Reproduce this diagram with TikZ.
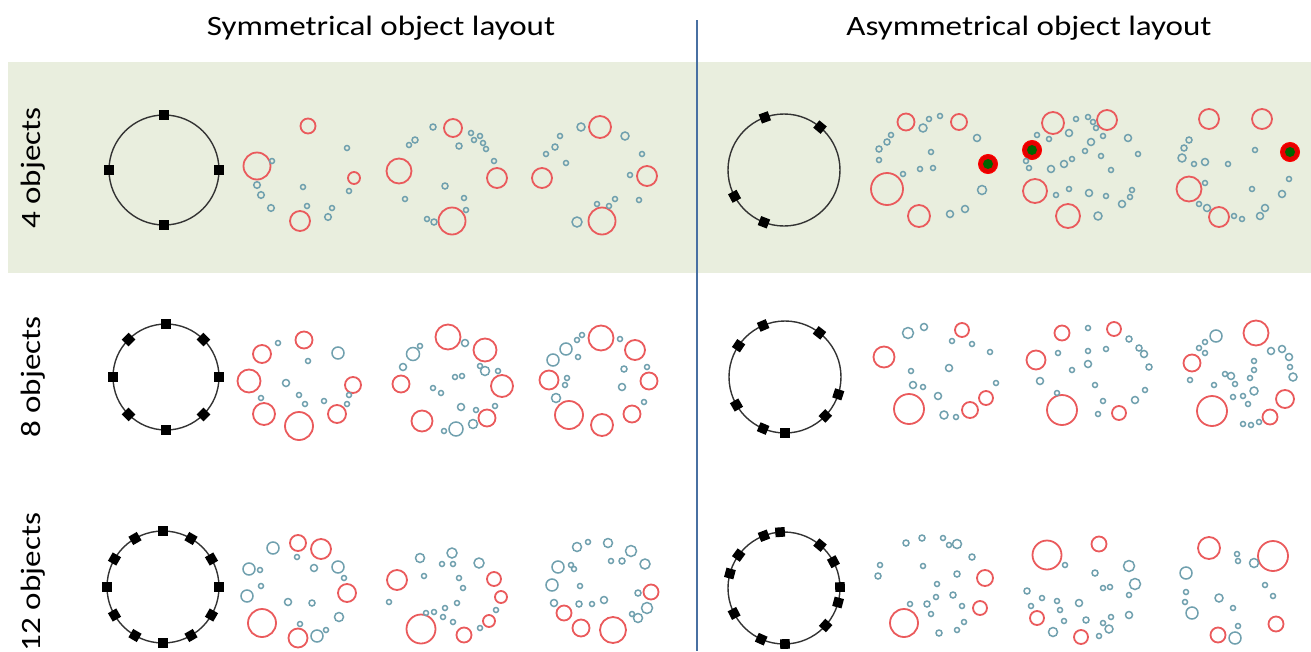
\documentclass[tikz,border=0pt]{standalone}
\usepackage{fontspec}
\setmainfont{Carlito}
\definecolor{bandgreen}{RGB}{233,238,222}
\definecolor{objred}{RGB}{234,90,92}
\definecolor{objblue}{RGB}{112,160,174}
\definecolor{divblue}{RGB}{72,112,162}
\definecolor{hitgreen}{RGB}{0,100,0}
\begin{document}
\begin{tikzpicture}[x=1pt, y=-1pt,
	title/.style={font=\fontsize{28}{34}\selectfont, anchor=base, inner sep=0pt},
	rowlabel/.style={font=\fontsize{28}{34}\selectfont, rotate=90, anchor=base, inner sep=0pt},
	redobj/.style={draw=objred, line width=1.8pt},
	blueobj/.style={draw=objblue, line width=1.5pt},
	ring/.style={draw=black!80, line width=1.4pt},
	target/.style={fill=red!90!black, draw=red, line width=1pt},
	]

\useasboundingbox (0,0) rectangle (1311,651);

% Create the background and titles
\fill[bandgreen] (8,62) rectangle (1311,273);
\draw[divblue, line width=1.2pt] (697,20) -- (697,651);

\node[title] (symtitle) at (381,35) {\scalebox{1.18}[1]{Symmetrical object layout}};
\node[title] (asymtitle) at (1029,35) {\scalebox{1.18}[1]{Asymmetrical object layout}};

\node[rowlabel] (lab4) at (40,168) {\scalebox{1.18}[1]{4 objects}};
\node[rowlabel] (lab8) at (40,377) {\scalebox{1.18}[1]{8 objects}};
\node[rowlabel] (lab12) at (40,582) {\scalebox{1.18}[1]{12 objects}};

% Object layouts
\foreach \cx/\cy/\rr/\angs in {
	164/170/55/{0,90,180,270},
	166/377/53/{0,45,90,135,180,225,270,315},
	163/587/56/{0,30,60,90,120,150,180,210,240,270,300,330},
	784/170/56/{110,50,208,249},
	785/377/56/{113,146,52,342,316,210,247,270},
	784/588/56/{111,94,144,165,50,28,1,345,318,207,246,271}} {
	\draw[ring] (\cx,\cy) circle [radius=\rr pt];
	\foreach \a in \angs
		\fill[black, shift={(\cx,\cy)}, rotate=\a, xshift=\rr pt] (-4.8pt,-4.8pt) rectangle (4.8pt,4.8pt);
}

% Red objects
\foreach \cx/\cy/\r in {
	308/126/7.5, 257/166/13.5, 354/178/6, 300/221/10,
	453/128/9, 399/171/12.5, 497/178/10, 452/221/13.5,
	600/127/11, 542/178/10, 647/176/10, 602/221/13.5,
	906/122/8.5, 959/122/8, 887/189/16, 919/216/11,
	1053/123/11, 1107/120/10, 1035/191/12, 1068/216/12,
	1209/119/10, 1262/119/10, 1189/189/12.5, 1219/217/10,
	304/340/8.5, 262/354/9, 249/381/11.5, 353/385/8, 264/414/11, 337/414/9, 299/426/14,
	448/337/12.5, 485/350/11.5, 401/384/8.5, 502/386/11, 422/421/10.5, 487/418/8.5,
	601/338/12.5, 635/350/10, 549/380/9.5, 649/381/8.5, 569/415/14, 602/425/11, 632/414/8.5,
	962/330/7, 884/357/10.5, 909/409/15, 970/410/8, 986/398/7,
	1062/333/7.5, 1114/329/7, 1036/360/9.5, 1062/410/15, 1119/413/7,
	1256/333/12.5, 1192/363/8.5, 1285/399/9, 1270/417/7.5, 1212/411/15,
	298/543/8, 321/549/10, 347/593/9, 262/623/14, 298/638/9.5,
	397/580/10, 421/629/14.5, 494/579/7, 501/597/6, 489/621/6, 464/635/7.5,
	651/592/7.5, 564/613/7.5, 581/628/8.5, 613/630/13,
	985/578/8, 980/608/7, 904/623/14,
	1047/555/14.5, 1099/544/7.5, 1037/618/7, 1081/637/7,
	1209/548/11, 1273/556/15, 1276/624/7.5, 1218/635/7.5}
	\draw[redobj] (\cx,\cy) circle [radius=\r pt];

% Target objects
\foreach \cx/\cy in {988/164, 1032/150, 1290/152} {
	\fill[target] (\cx,\cy) circle [radius=9.5pt];
	\fill[hitgreen] (\cx,\cy) circle [radius=5pt];
}

% Blue objects
\foreach \cx/\cy/\r in {
	272/161/2.5, 257/185/3.3, 261/195/3.3, 271/208/3.3, 303/187/2.5, 307/206/2.5, 328/217/3.3, 332/208/2.5, 349/191/2.5, 347/148/2.5,
	433/127/3, 415/140/3, 409/145/2.5, 459/146/3, 471/133/2.5, 474/140/2.5, 480/136/2.5, 483/143/2.5, 486/149/2.5, 494/161/2.5, 445/186/3, 405/199/2.5, 464/198/2.5, 466/210/2.5, 427/219/2.5, 434/222/3,
	581/127/4, 625/136/4, 560/136/2.5, 555/147/3, 546/154/2.5, 566/163/2.5, 642/154/2.5, 630/175/2.5, 639/200/2.5, 615/199/2.5, 609/206/2.5, 597/204/2.5, 577/222/5,
	929/119/2.5, 940/116/2.5, 923/128/4, 891/135/2.5, 887/142/3, 879/149/3, 879/160/2.5, 931/152/2.5, 920/169/2.5, 933/168/2.5, 903/174/2.5, 977/138/3.5, 982/190/4.5, 965/209/3.5, 950/214/3.5,
	1076/119/2.5, 1088/117/2.5, 1093/122/2.5, 1096/128/2.5, 1069/133/3.5, 1037/135/2.5, 1049/139/2.5, 1103/136/2.5, 1091/142/3.5, 1128/138/3.5, 1085/151/2.5, 1101/156/2.5, 1138/154/2.5, 1072/159/2.5, 1064/164/3.5, 1026/161/2.5, 1029/168/2.5, 1051/169/3.5, 1111/170/2.5, 1069/189/2.5, 1056/195/2.5, 1089/193/3.5, 1106/196/2.5, 1132/190/2.5, 1130/197/2.5, 1122/204/3.5, 1098/216/4,
	1189/140/3, 1184/148/3, 1182/158/4, 1194/164/2.5, 1205/162/3.5, 1228/164/2.5, 1255/150/2.5, 1205/183/2.5, 1252/189/2.5, 1289/179/2.5, 1282/194/3.5, 1199/204/2.5, 1207/208/3.5, 1234/216/2.5, 1242/219/2.5, 1260/216/3.5, 1265/208/3.5,
	278/343/2.5, 308/361/2.5, 338/353/6, 286/383/3.5, 261/398/2.5, 299/395/2.5, 305/404/2.5, 324/401/2.5, 349/395/2.5, 347/404/2.5,
	465/343/3.5, 413/354/6.5, 420/346/2.5, 403/367/3.5, 455/377/2.5, 462/376/2.5, 480/366/2.5, 485/371/4.5, 498/371/2.5, 433/388/2.5, 441/393/2.5, 461/407/3.5, 476/410/2.5, 495/406/2.5, 473/424/4.5, 456/429/7, 444/431/2.5,
	582/335/2.5, 577/340/2.5, 566/349/6, 553/360/6, 578/357/2.5, 620/339/2.5, 624/369/3, 647/367/2.5, 567/378/2.5, 565/385/2.5, 622/387/3.5, 556/398/4.5, 644/402/2.5,
	908/333/5.5, 924/327/3.5, 952/341/2.5, 972/344/2.5, 990/352/2.5, 911/371/2.5, 949/368/3.5, 913/385/3.5, 923/387/2.5, 938/396/3.5, 996/383/2.5, 944/415/4, 956/417/2.5,
	1088/328/2.5, 1129/339/3, 1106/349/2.5, 1088/351/2.5, 1058/353/2.5, 1139/348/3, 1144/354/3.5, 1149/367/3, 1088/364/3.5, 1072/370/2.5, 1040/381/3.5, 1095/385/2.5, 1057/393/2.5, 1145/390/2.5, 1135/400/3.5, 1103/401/2.5, 1098/414/2.5,
	1216/336/6, 1205/342/2.5, 1199/348/2.5, 1205/353/2.5, 1271/351/3.5, 1282/349/3.5, 1289/357/3.5, 1254/361/2.5, 1290/367/2.5, 1293/377/4, 1254/370/2.5, 1225/374/2.5, 1231/376/3.5, 1250/378/2.5, 1190/380/2.5, 1214/385/2.5, 1235/384/2.5, 1254/391/4, 1233/397/2.5, 1243/396/2.5, 1248/404/2.5, 1243/424/2.5, 1251/425/2.5, 1259/422/2.5,
	273/548/6, 297/557/2.5, 249/569/6, 260/570/2.5, 314/568/3.5, 338/567/6, 344/578/2.5, 261/586/2.5, 247/596/6, 288/602/3.5, 312/603/3, 339/617/4.5, 300/624/2.5, 326/630/2.5, 317/636/6,
	420/558/4.5, 452/553/5, 479/563/5, 442/564/2.5, 453/564/2.5, 424/576/2.5, 459/578/2.5, 463/588/2.5, 389/602/2.5, 445/608/2.5, 457/603/2.5, 426/613/2.5, 434/612/2.5, 443/617/2.5, 453/622/2.5, 496/610/2.5, 480/628/2.5,
	577/547/4.5, 588/542/2.5, 608/543/4.5, 631/551/5.5, 611/561/2.5, 622/561/3, 645/564/5, 558/567/6, 571/565/2.5, 574/569/2.5, 552/585/6, 580/586/2.5, 638/593/3, 554/603/3.5, 579/604/3, 592/604/2.5, 604/600/3.5, 647/608/5.5, 632/614/2.5, 638/618/4.5,
	906/543/3, 922/538/3, 943/538/2.5, 949/545/2.5, 957/544/4.5, 972/557/3, 880/565/2.5, 878/576/3, 923/566/2.5, 957/574/3, 937/584/2.5, 953/595/3, 936/597/2.5, 927/604/3, 910/604/2.5, 962/606/2.5, 931/614/2.5, 964/622/2.5, 957/630/2.5, 939/633/3,
	1065/565/2.5, 1095/573/3, 1129/566/5.5, 1135/584/5.5, 1103/588/2.5, 1110/587/2.5, 1129/595/2.5, 1027/591/3, 1042/598/2.5, 1057/601/2.5, 1079/603/3.5, 1031/606/2.5, 1060/610/2.5, 1064/621/2.5, 1086/620/3, 1111/617/2.5, 1129/615/3.5, 1103/623/2.5, 1109/629/4, 1053/632/4.5, 1099/636/2.5,
	1237/554/2.5, 1238/561/2.5, 1254/563/4.5, 1186/573/6, 1265/585/2.5, 1273/596/2.5, 1186/592/2.5, 1185/602/2.5, 1219/598/4, 1233/608/2.5, 1192/613/6, 1238/626/2.5, 1235/638/6}
	\draw[blueobj] (\cx,\cy) circle [radius=\r pt];

\end{tikzpicture}
\end{document}
